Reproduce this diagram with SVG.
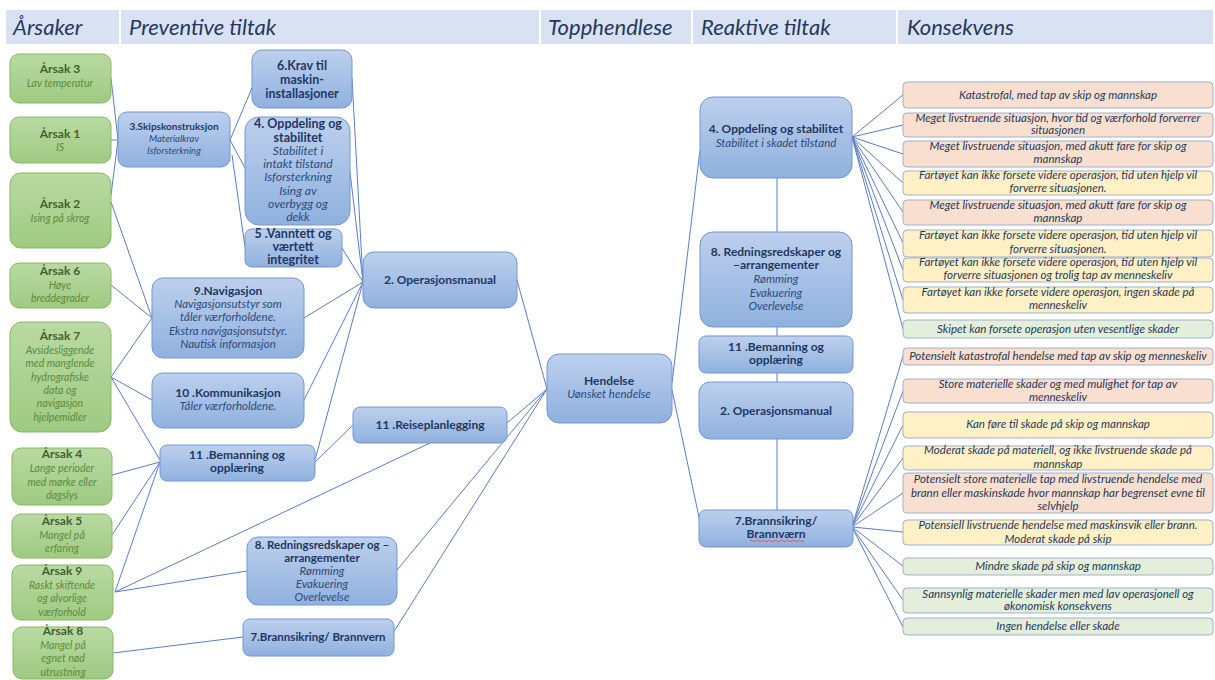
<svg xmlns="http://www.w3.org/2000/svg" width="1215" height="680" viewBox="0 0 1215 680">
  <defs>
    <linearGradient id="gBlue" x1="0" y1="0" x2="0" y2="1">
      <stop offset="0" stop-color="#bdd0ed"/>
      <stop offset="1" stop-color="#8fb1de"/>
    </linearGradient>
    <linearGradient id="gGreen" x1="0" y1="0" x2="0" y2="1">
      <stop offset="0" stop-color="#b9daa2"/>
      <stop offset="1" stop-color="#9fca82"/>
    </linearGradient>
    <style>
      text { font-family: Lato, "Liberation Sans", sans-serif; text-anchor: middle; }
      .hdr { fill: #d9e2f3; }
      .sep { stroke: #ffffff; stroke-width: 2; }
      .ht { font-style: italic; font-size: 22px; fill: #26375f; text-anchor: start; }
      .blue rect { fill: url(#gBlue); stroke: #7497cf; stroke-width: 1; }
      .green rect { fill: url(#gGreen); stroke: #86b862; stroke-width: 1; }
      .bb { font-weight: 700; font-size: 12px; fill: #1f3763; }
      .bi { font-style: italic; font-size: 11.5px; fill: #2c4a7c; }
      .gb { font-weight: 700; font-size: 12px; fill: #445f33; }
      .gi { font-style: italic; font-size: 10.5px; fill: #5b8b3b; }
      .cons rect { stroke: #9fb1cd; stroke-width: 1; }
      .red { fill: #f9dfcf; }
      .yel { fill: #fff0c6; }
      .grn { fill: #e3efda; }
      .ci { font-style: italic; font-size: 11.5px; fill: #27385a; }
      #connectors line { stroke: #5a7ec5; stroke-width: 1; }
      .squig { fill: none; stroke: #e0443c; stroke-width: 0.8; }
    </style>
  </defs>

  <rect width="1215" height="680" fill="#ffffff"/>

  <!-- column header band -->
  <g id="header">
    <rect class="hdr" x="6" y="10" width="1207" height="34"/>
    <line class="sep" x1="120" y1="10" x2="120" y2="44"/>
    <line class="sep" x1="540" y1="10" x2="540" y2="44"/>
    <line class="sep" x1="692" y1="10" x2="692" y2="44"/>
    <line class="sep" x1="897" y1="10" x2="897" y2="44"/>
    <text class="ht" x="13" y="35">Årsaker</text>
    <text class="ht" x="129" y="35">Preventive tiltak</text>
    <text class="ht" x="548" y="35">Topphendlese</text>
    <text class="ht" x="701" y="35">Reaktive tiltak</text>
    <text class="ht" x="907" y="35">Konsekvens</text>
  </g>

  <!-- connectors -->
  <g id="connectors">
    <!-- causes to preventive measures -->
    <line x1="111" y1="78" x2="118" y2="140"/>
    <line x1="111" y1="140" x2="118" y2="140"/>
    <line x1="111" y1="195" x2="118" y2="140"/>
    <line x1="111" y1="202" x2="152" y2="318"/>
    <line x1="111" y1="285" x2="152" y2="318"/>
    <line x1="111" y1="377" x2="152" y2="318"/>
    <line x1="111" y1="377" x2="152" y2="400"/>
    <line x1="111" y1="377" x2="160" y2="460"/>
    <line x1="112" y1="475" x2="160" y2="462"/>
    <line x1="112" y1="535" x2="160" y2="462"/>
    <line x1="115" y1="592" x2="160" y2="462"/>
    <line x1="115" y1="592" x2="247" y2="571"/>
    <line x1="115" y1="592" x2="430" y2="443"/>
    <line x1="113" y1="653" x2="243" y2="637"/>
    <!-- ship construction branches -->
    <line x1="230" y1="140" x2="252" y2="88"/>
    <line x1="230" y1="140" x2="245" y2="168"/>
    <line x1="232" y1="155" x2="245" y2="247"/>
    <!-- into the operations manual -->
    <line x1="352" y1="78" x2="363" y2="282"/>
    <line x1="350" y1="172" x2="363" y2="282"/>
    <line x1="342" y1="248" x2="363" y2="282"/>
    <line x1="304" y1="318" x2="363" y2="282"/>
    <line x1="304" y1="400" x2="363" y2="282"/>
    <line x1="315" y1="460" x2="363" y2="282"/>
    <line x1="315" y1="462" x2="353" y2="425"/>
    <!-- into the top event -->
    <line x1="517" y1="280" x2="547" y2="389"/>
    <line x1="507" y1="423" x2="547" y2="389"/>
    <line x1="397" y1="570" x2="547" y2="389"/>
    <line x1="393" y1="633" x2="547" y2="389"/>
    <!-- top event to reactive measures -->
    <line x1="672" y1="383" x2="700" y2="150"/>
    <line x1="672" y1="390" x2="700" y2="522"/>
    <!-- reactive chain -->
    <line x1="777" y1="178" x2="777" y2="232"/>
    <line x1="777" y1="327" x2="777" y2="336"/>
    <line x1="777" y1="373" x2="777" y2="382"/>
    <line x1="777" y1="439" x2="777" y2="510"/>
    <!-- stability to consequences -->
    <line x1="852" y1="137" x2="903" y2="95"/>
    <line x1="852" y1="137" x2="903" y2="125"/>
    <line x1="852" y1="137" x2="903" y2="154"/>
    <line x1="852" y1="137" x2="903" y2="183"/>
    <line x1="852" y1="137" x2="903" y2="212"/>
    <line x1="852" y1="137" x2="903" y2="243"/>
    <line x1="852" y1="137" x2="903" y2="270"/>
    <line x1="852" y1="137" x2="903" y2="300"/>
    <line x1="852" y1="137" x2="903" y2="329"/>
    <!-- fire protection to consequences -->
    <line x1="852" y1="527" x2="903" y2="356"/>
    <line x1="852" y1="527" x2="903" y2="391"/>
    <line x1="852" y1="527" x2="903" y2="425"/>
    <line x1="852" y1="527" x2="903" y2="458"/>
    <line x1="852" y1="527" x2="903" y2="493"/>
    <line x1="852" y1="527" x2="903" y2="532"/>
    <line x1="852" y1="527" x2="903" y2="566"/>
    <line x1="852" y1="527" x2="903" y2="600"/>
    <line x1="852" y1="527" x2="903" y2="627"/>
  </g>

  <!-- causes -->
  <g id="cause3" class="green">
    <rect x="10" y="54" width="101" height="49" rx="9"/>
    <text class="gb" x="60" y="73">Årsak 3</text>
    <text class="gi" x="60" y="87">Lav temperatur</text>
  </g>
  <g id="cause1" class="green">
    <rect x="10" y="117" width="101" height="46" rx="9"/>
    <text class="gb" x="60" y="138">Årsak 1</text>
    <text class="gi" x="60" y="151">IS</text>
  </g>
  <g id="cause2" class="green">
    <rect x="10" y="173" width="101" height="75" rx="11"/>
    <text class="gb" x="60" y="208">Årsak 2</text>
    <text class="gi" x="60" y="222">Ising på skrog</text>
  </g>
  <g id="cause6" class="green">
    <rect x="10" y="263" width="101" height="45" rx="9"/>
    <text class="gb" x="60" y="275">Årsak 6</text>
    <text class="gi" x="60" y="289">Høye</text>
    <text class="gi" x="60" y="302">breddegrader</text>
  </g>
  <g id="cause7" class="green">
    <rect x="10" y="322" width="101" height="110" rx="12"/>
    <text class="gb" x="60" y="340">Årsak 7</text>
    <text class="gi" x="60" y="354">Avsidesliggende</text>
    <text class="gi" x="60" y="367">med manglende</text>
    <text class="gi" x="60" y="381">hydrografiske</text>
    <text class="gi" x="60" y="394">data og</text>
    <text class="gi" x="60" y="407">navigasjon</text>
    <text class="gi" x="60" y="421">hjelpemidler</text>
  </g>
  <g id="cause4" class="green">
    <rect x="12" y="448" width="100" height="57" rx="9"/>
    <text class="gb" x="62" y="458">Årsak 4</text>
    <text class="gi" x="62" y="472">Lange perioder</text>
    <text class="gi" x="62" y="486">med mørke eller</text>
    <text class="gi" x="62" y="499">dagslys</text>
  </g>
  <g id="cause5" class="green">
    <rect x="12" y="514" width="100" height="44" rx="9"/>
    <text class="gb" x="62" y="525">Årsak 5</text>
    <text class="gi" x="62" y="539">Mangel på</text>
    <text class="gi" x="62" y="552">erfaring</text>
  </g>
  <g id="cause9" class="green">
    <rect x="12" y="565" width="101" height="55" rx="9"/>
    <text class="gb" x="62" y="575">Årsak 9</text>
    <text class="gi" x="62" y="589">Raskt skiftende</text>
    <text class="gi" x="62" y="602">og alvorlige</text>
    <text class="gi" x="62" y="616">værforhold</text>
  </g>
  <g id="cause8" class="green">
    <rect x="13" y="627" width="100" height="52" rx="9"/>
    <text class="gb" x="63" y="635">Årsak 8</text>
    <text class="gi" x="63" y="649">Mangel på</text>
    <text class="gi" x="63" y="662">egnet nød</text>
    <text class="gi" x="63" y="676">utrustning</text>
  </g>

  <!-- preventive measures -->
  <g id="p-skipskonstruksjon" class="blue">
    <rect x="118" y="112" width="112" height="55" rx="9"/>
    <text class="bb" x="174" y="130" style="font-size:10px">3.Skipskonstruksjon</text>
    <text class="bi" x="174" y="142" style="font-size:9.5px">Materialkrav</text>
    <text class="bi" x="174" y="154" style="font-size:9.5px">Isforsterkning</text>
  </g>
  <g id="p-maskin" class="blue">
    <rect x="252" y="50" width="100" height="58" rx="10"/>
    <text class="bb" x="302" y="70" style="font-size:12.5px">6.Krav til</text>
    <text class="bb" x="302" y="84" style="font-size:12.5px">maskin-</text>
    <text class="bb" x="302" y="98" style="font-size:12.5px">installasjoner</text>
  </g>
  <g id="p-oppdeling" class="blue">
    <rect x="245" y="117" width="105" height="108" rx="14"/>
    <text class="bb" x="298" y="128" style="font-size:12.5px">4. Oppdeling og</text>
    <text class="bb" x="298" y="141.5" style="font-size:12.5px">stabilitet</text>
    <text class="bi" x="298" y="155" style="font-size:12px">Stabilitet i</text>
    <text class="bi" x="298" y="168" style="font-size:12px">intakt tilstand</text>
    <text class="bi" x="298" y="181" style="font-size:12px">Isforsterkning</text>
    <text class="bi" x="298" y="194.5" style="font-size:12px">Ising av</text>
    <text class="bi" x="298" y="208" style="font-size:12px">overbygg og</text>
    <text class="bi" x="298" y="221" style="font-size:12px">dekk</text>
  </g>
  <g id="p-vanntett" class="blue">
    <rect x="245" y="229" width="97" height="38" rx="7"/>
    <text class="bb" x="293" y="238" style="font-size:12.5px">5 .Vanntett og</text>
    <text class="bb" x="293" y="251" style="font-size:12.5px">værtett</text>
    <text class="bb" x="293" y="264" style="font-size:12.5px">integritet</text>
  </g>
  <g id="p-navigasjon" class="blue">
    <rect x="152" y="278" width="152" height="80" rx="11"/>
    <text class="bb" x="228" y="295">9.Navigasjon</text>
    <text class="bi" x="228" y="308">Navigasjonsutstyr som</text>
    <text class="bi" x="228" y="321">tåler værforholdene.</text>
    <text class="bi" x="228" y="335">Ekstra navigasjonsutstyr.</text>
    <text class="bi" x="228" y="348">Nautisk informasjon</text>
  </g>
  <g id="p-kommunikasjon" class="blue">
    <rect x="152" y="373" width="152" height="55" rx="11"/>
    <text class="bb" x="228" y="397">10 .Kommunikasjon</text>
    <text class="bi" x="228" y="410">Tåler værforholdene.</text>
  </g>
  <g id="p-bemanning" class="blue">
    <rect x="160" y="445" width="155" height="36" rx="7"/>
    <text class="bb" x="237" y="459">11 .Bemanning og</text>
    <text class="bb" x="237" y="472">opplæring</text>
  </g>
  <g id="p-operasjonsmanual" class="blue">
    <rect x="363" y="252" width="154" height="56" rx="11"/>
    <text class="bb" x="440" y="284">2. Operasjonsmanual</text>
  </g>
  <g id="p-reiseplanlegging" class="blue">
    <rect x="353" y="407" width="154" height="36" rx="7"/>
    <text class="bb" x="430" y="429">11 .Reiseplanlegging</text>
  </g>
  <g id="p-redning" class="blue">
    <rect x="247" y="537" width="150" height="68" rx="11"/>
    <text class="bb" x="322" y="549" style="font-size:11.5px">8. Redningsredskaper og –</text>
    <text class="bb" x="322" y="562" style="font-size:11.5px">arrangementer</text>
    <text class="bi" x="322" y="575">Rømming</text>
    <text class="bi" x="322" y="588">Evakuering</text>
    <text class="bi" x="322" y="601">Overlevelse</text>
  </g>
  <g id="p-brann" class="blue">
    <rect x="243" y="619" width="151" height="37" rx="7"/>
    <text class="bb" x="318" y="641" style="font-size:11.5px">7.Brannsikring/ Brannvern</text>
  </g>

  <!-- top event -->
  <g id="topphendelse" class="blue">
    <rect x="547" y="354" width="125" height="69" rx="12"/>
    <text class="bb" x="609" y="385">Hendelse</text>
    <text class="bi" x="609" y="398">Uønsket hendelse</text>
  </g>

  <!-- reactive measures -->
  <g id="r-oppdeling" class="blue">
    <rect x="700" y="97" width="152" height="81" rx="13"/>
    <text class="bb" x="776" y="133">4. Oppdeling og stabilitet</text>
    <text class="bi" x="776" y="147">Stabilitet i skadet tilstand</text>
  </g>
  <g id="r-redning" class="blue">
    <rect x="700" y="232" width="152" height="95" rx="13"/>
    <text class="bb" x="776" y="256">8. Redningsredskaper og</text>
    <text class="bb" x="776" y="269">–arrangementer</text>
    <text class="bi" x="776" y="283">Rømming</text>
    <text class="bi" x="776" y="297">Evakuering</text>
    <text class="bi" x="776" y="310">Overlevelse</text>
  </g>
  <g id="r-bemanning" class="blue">
    <rect x="699" y="336" width="154" height="37" rx="7"/>
    <text class="bb" x="776" y="351">11 .Bemanning og</text>
    <text class="bb" x="776" y="364">opplæring</text>
  </g>
  <g id="r-operasjonsmanual" class="blue">
    <rect x="699" y="382" width="154" height="57" rx="11"/>
    <text class="bb" x="776" y="415">2. Operasjonsmanual</text>
  </g>
  <g id="r-brann" class="blue">
    <rect x="699" y="510" width="154" height="37" rx="7"/>
    <text class="bb" x="776" y="525">7.Brannsikring/</text>
    <text class="bb" x="776" y="538">Brannværn</text>
    <path class="squig" d="M750 541 q1.5 -1.6 3 0 t3 0 t3 0 t3 0 t3 0 t3 0 t3 0 t3 0 t3 0 t3 0 t3 0 t3 0 t3 0 t3 0 t3 0 t3 0 t3 0 t3 0"/>
  </g>

  <!-- consequences -->
  <g id="k1" class="cons">
    <rect class="red" x="903" y="82" width="310" height="26" rx="4"/>
    <text class="ci" x="1058" y="99">Katastrofal, med tap av skip og mannskap</text>
  </g>
  <g id="k2" class="cons">
    <rect class="red" x="903" y="113" width="310" height="24" rx="4"/>
    <text class="ci" x="1058" y="122">Meget livstruende situasjon, hvor tid og værforhold forverrer</text>
    <text class="ci" x="1058" y="134">situasjonen</text>
  </g>
  <g id="k3" class="cons">
    <rect class="red" x="903" y="141" width="310" height="26" rx="4"/>
    <text class="ci" x="1058" y="150">Meget livstruende situasjon, med akutt fare for skip og</text>
    <text class="ci" x="1058" y="163">mannskap</text>
  </g>
  <g id="k4" class="cons">
    <rect class="yel" x="903" y="171" width="310" height="24" rx="4"/>
    <text class="ci" x="1058" y="179">Fartøyet kan ikke forsete videre operasjon, tid uten hjelp vil</text>
    <text class="ci" x="1058" y="192">forverre situasjonen.</text>
  </g>
  <g id="k5" class="cons">
    <rect class="red" x="903" y="200" width="310" height="25" rx="4"/>
    <text class="ci" x="1058" y="209">Meget livstruende situasjon, med akutt fare for skip og</text>
    <text class="ci" x="1058" y="222">mannskap</text>
  </g>
  <g id="k6" class="cons">
    <rect class="yel" x="903" y="230" width="310" height="27" rx="4"/>
    <text class="ci" x="1058" y="239">Fartøyet kan ikke forsete videre operasjon, tid uten hjelp vil</text>
    <text class="ci" x="1058" y="253">forverre situasjonen.</text>
  </g>
  <g id="k7" class="cons">
    <rect class="yel" x="903" y="258" width="310" height="24" rx="4"/>
    <text class="ci" x="1058" y="266">Fartøyet kan ikke forsete videre operasjon, tid uten hjelp vil</text>
    <text class="ci" x="1058" y="279">forverre situasjonen og trolig tap av menneskeliv</text>
  </g>
  <g id="k8" class="cons">
    <rect class="yel" x="903" y="287" width="310" height="26" rx="4"/>
    <text class="ci" x="1058" y="296">Fartøyet kan ikke forsete videre operasjon, ingen skade på</text>
    <text class="ci" x="1058" y="309">menneskeliv</text>
  </g>
  <g id="k9" class="cons">
    <rect class="grn" x="903" y="320" width="310" height="18" rx="4"/>
    <text class="ci" x="1058" y="333">Skipet kan forsete operasjon uten vesentlige skader</text>
  </g>
  <g id="k10" class="cons">
    <rect class="red" x="903" y="348" width="310" height="17" rx="4"/>
    <text class="ci" x="1058" y="360">Potensielt katastrofal hendelse med tap av skip og menneskeliv</text>
  </g>
  <g id="k11" class="cons">
    <rect class="red" x="903" y="379" width="310" height="24" rx="4"/>
    <text class="ci" x="1058" y="388">Store materielle skader og med mulighet for tap av</text>
    <text class="ci" x="1058" y="401">menneskeliv</text>
  </g>
  <g id="k12" class="cons">
    <rect class="yel" x="903" y="412" width="310" height="26" rx="4"/>
    <text class="ci" x="1058" y="428">Kan føre til skade på skip og mannskap</text>
  </g>
  <g id="k13" class="cons">
    <rect class="yel" x="903" y="446" width="310" height="24" rx="4"/>
    <text class="ci" x="1058" y="454">Moderat skade på materiell, og ikke livstruende skade på</text>
    <text class="ci" x="1058" y="468">mannskap</text>
  </g>
  <g id="k14" class="cons">
    <rect class="red" x="903" y="473" width="310" height="40" rx="4"/>
    <text class="ci" x="1058" y="483">Potensielt store materielle tap med livstruende hendelse med</text>
    <text class="ci" x="1058" y="497">brann eller maskinskade hvor mannskap har begrenset evne til</text>
    <text class="ci" x="1058" y="510">selvhjelp</text>
  </g>
  <g id="k15" class="cons">
    <rect class="yel" x="903" y="520" width="310" height="25" rx="4"/>
    <text class="ci" x="1058" y="529">Potensiell livstruende hendelse med maskinsvik eller brann.</text>
    <text class="ci" x="1058" y="543">Moderat skade på skip</text>
  </g>
  <g id="k16" class="cons">
    <rect class="grn" x="903" y="558" width="310" height="17" rx="4"/>
    <text class="ci" x="1058" y="570">Mindre skade på skip og mannskap</text>
  </g>
  <g id="k17" class="cons">
    <rect class="grn" x="903" y="588" width="310" height="25" rx="4"/>
    <text class="ci" x="1058" y="598">Sannsynlig materielle skader men med lav operasjonell og</text>
    <text class="ci" x="1058" y="610">økonomisk konsekvens</text>
  </g>
  <g id="k18" class="cons">
    <rect class="grn" x="903" y="618" width="310" height="17" rx="4"/>
    <text class="ci" x="1058" y="630">Ingen hendelse eller skade</text>
  </g>
</svg>
